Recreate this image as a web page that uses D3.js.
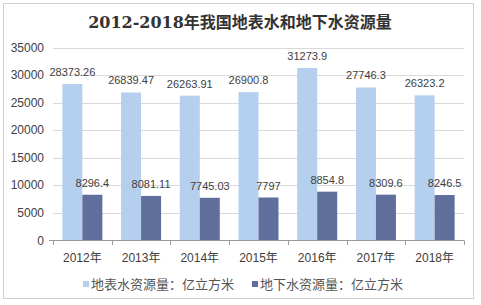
<!DOCTYPE html>
<html>
<head>
<meta charset="utf-8">
<script src="https://cdn.jsdelivr.net/npm/d3@7"></script>
<style>
  body { margin: 0; background: #fff; }
  text { font-family: "Liberation Sans", Arial, "Noto Sans CJK SC", sans-serif; }
</style>
</head>
<body>
<script>
// data
var years = ['2012年', '2013年', '2014年', '2015年', '2016年', '2017年', '2018年'];
var surface = [28373.26, 26839.47, 26263.91, 26900.8, 31273.9, 27746.3, 26323.2];
var ground = [8296.4, 8081.11, 7745.03, 7797, 8854.8, 8309.6, 8246.5];
var surfaceLabels = ['28373.26', '26839.47', '26263.91', '26900.8', '31273.9', '27746.3', '26323.2'];
var groundLabels = ['8296.4', '8081.11', '7745.03', '7797', '8854.8', '8309.6', '8246.5'];
var seriesNames = ['地表水资源量：亿立方米', '地下水资源量：亿立方米'];
var yTicks = [0, 5000, 10000, 15000, 20000, 25000, 30000, 35000];

var W = 481, H = 305;
var colors = ['#b5cfee', '#5f6e9b'];

var svg = d3.select('body').append('svg')
  .attr('width', W).attr('height', H);

// outer frame
svg.append('rect')
  .attr('x', 3.5).attr('y', 3.5)
  .attr('width', 470).attr('height', 295)
  .attr('fill', '#fff').attr('stroke', '#cfcfcf');

svg.append('text')
  .attr('x', 240).attr('y', 28)
  .attr('text-anchor', 'middle')
  .style('font-family', '"DejaVu Serif", "Noto Sans CJK SC", serif')
  .style('font-size', '16px')
  .style('font-weight', 'bold')
  .attr('fill', '#333')
  .text('2012-2018年我国地表水和地下水资源量');

var x = d3.scaleBand().domain(years).range([53, 464]);
var y = d3.scaleLinear().domain([0, 35000]).range([240.5, 47.5]);

// gridlines
svg.append('g').selectAll('line')
  .data(yTicks.slice(1))
  .enter().append('line')
  .attr('x1', 53).attr('x2', 464)
  .attr('y1', function(d) { return Math.round(y(d)) + 0.5; })
  .attr('y2', function(d) { return Math.round(y(d)) + 0.5; })
  .attr('stroke', '#d9d9d9');

// y axis labels
svg.append('g').selectAll('text')
  .data(yTicks)
  .enter().append('text')
  .attr('x', 44)
  .attr('y', function(d) { return y(d) + 4; })
  .attr('text-anchor', 'end')
  .style('font-size', '12px')
  .attr('fill', '#404040')
  .text(function(d) { return d; });

var barW = 20;
var pad = (x.bandwidth() - 2 * barW) / 2;

var g = svg.append('g');
var allSeries = [surface, ground];
var allLabels = [surfaceLabels, groundLabels];

allSeries.forEach(function(vals, s) {
  g.selectAll('.bar' + s)
    .data(vals)
    .enter().append('rect')
    .attr('class', 'bar' + s)
    .attr('x', function(d, i) { return x(years[i]) + pad + s * barW; })
    .attr('y', function(d) { return y(d); })
    .attr('width', barW)
    .attr('height', function(d) { return y(0) - y(d); })
    .attr('fill', colors[s]);

  g.selectAll('.lbl' + s)
    .data(vals)
    .enter().append('text')
    .attr('class', 'lbl' + s)
    .attr('x', function(d, i) { return x(years[i]) + pad + s * barW + barW / 2; })
    .attr('y', function(d) { return y(d) - 8; })
    .attr('text-anchor', 'middle')
    .style('font-size', '11px')
    .attr('fill', '#404040')
    .text(function(d, i) { return allLabels[s][i]; });
});

// x axis
var xAxis = svg.append('g');
xAxis.append('line')
  .attr('x1', 53).attr('x2', 464)
  .attr('y1', 240.5).attr('y2', 240.5)
  .attr('stroke', '#999');
var bounds = years.map(function(d) { return x(d); }).concat([464]);
xAxis.selectAll('.tick')
  .data(bounds)
  .enter().append('line')
  .attr('x1', function(d) { return Math.round(d) + 0.5; })
  .attr('x2', function(d) { return Math.round(d) + 0.5; })
  .attr('y1', 240.5).attr('y2', 245)
  .attr('stroke', '#999');
xAxis.append('line')
  .attr('x1', 49).attr('x2', 53)
  .attr('y1', 240.5).attr('y2', 240.5)
  .attr('stroke', '#999');
xAxis.selectAll('text')
  .data(years)
  .enter().append('text')
  .attr('x', function(d) { return x(d) + x.bandwidth() / 2; })
  .attr('y', 262)
  .attr('text-anchor', 'middle')
  .style('font-size', '12px')
  .attr('fill', '#404040')
  .text(function(d) { return d; });

// legend
var legX = [83, 252];
seriesNames.forEach(function(name, s) {
  svg.append('rect')
    .attr('x', legX[s]).attr('y', 281)
    .attr('width', 6).attr('height', 6)
    .attr('fill', colors[s]);
  svg.append('text')
    .attr('x', legX[s] + 8).attr('y', 289)
    .style('font-size', '13px')
    .attr('fill', '#555')
    .text(name);
});
</script>
</body>
</html>
